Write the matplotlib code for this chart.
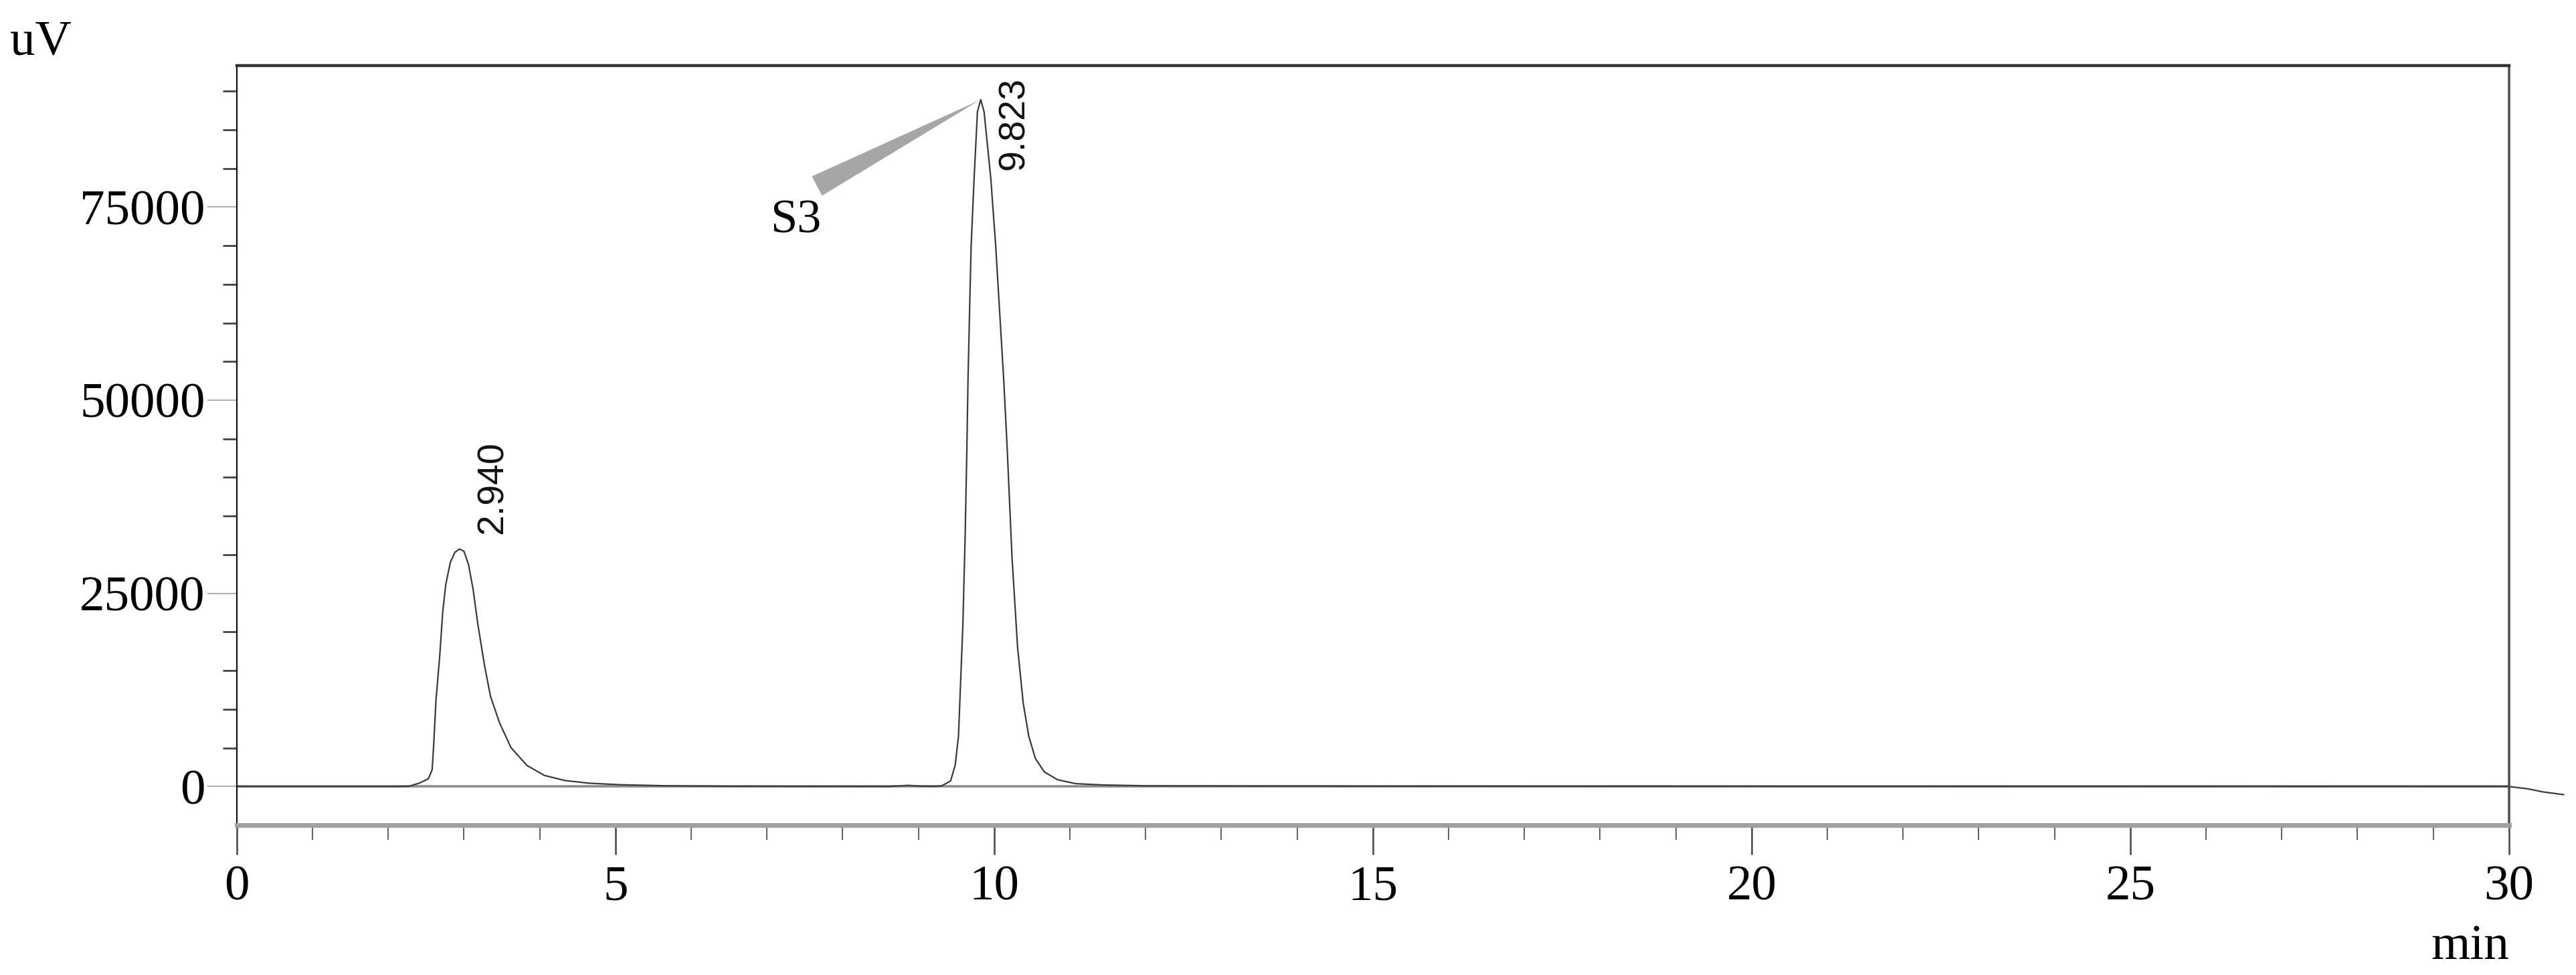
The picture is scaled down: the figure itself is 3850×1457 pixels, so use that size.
import matplotlib
matplotlib.use("Agg")
import matplotlib.pyplot as plt
from matplotlib.ticker import FixedLocator

# retention time (min) and detector signal (uV)
time_min = [0.0, 1.0, 2.09, 2.27, 2.41, 2.53, 2.58, 2.60, 2.63, 2.68, 2.72, 2.76, 2.82,
            2.88, 2.94, 3.00, 3.06, 3.12, 3.18, 3.27, 3.35, 3.47, 3.62, 3.83,
            4.06, 4.33, 4.65, 5.06, 5.65, 6.5, 8.6, 8.75, 8.87, 9.0, 9.2,
            9.308, 9.425, 9.485, 9.529, 9.552, 9.587, 9.617, 9.638, 9.655,
            9.675, 9.696, 9.735, 9.779, 9.823, 9.867, 9.956, 10.020, 10.073,
            10.126, 10.168, 10.236, 10.309, 10.383, 10.457, 10.545, 10.663,
            10.840, 11.076, 11.430, 12.016, 15.0, 20.0, 25.0, 30.0]
signal_uv = [0, 0, 0, 30, 430, 1010, 2170, 5340, 11110, 16890, 22660, 26130, 29010,
             30310, 30740, 30450, 28720, 25550, 21220, 15730, 11690, 8230, 5050, 2740,
             1440, 780, 430, 230, 100, 30, 0, 80, 150, 60, 20,
             90, 720, 2750, 6500, 12300, 20960, 32480, 42870, 52740,
             61340, 70000, 78660, 87320, 88900, 87320, 78660, 70000, 61340,
             52680, 44600, 29590, 18040, 10830, 6500, 3610, 1880,
             870, 370, 200, 90, 40, 20, 10, 0]

# trace continuing past the end of the time axis
tail_time = [30.0, 30.25, 30.45, 30.72]
tail_uv = [0, -300, -700, -1050]

peak_times = [2.940, 9.823]
peak_labels = ["2.940", "9.823"]
peak_label_y = [32650, 91800]
peak_label_va = ["bottom", "top"]

x_ticks = [0, 5, 10, 15, 20, 25, 30]
y_ticks = [0, 25000, 50000, 75000]
y_minor = [5000, 10000, 15000, 20000, 30000, 35000, 40000, 45000,
           55000, 60000, 65000, 70000, 80000, 85000, 90000]

plt.rcParams['font.family'] = ['Liberation Serif', 'DejaVu Serif']

fig = plt.figure(figsize=(38.5, 14.57), dpi=100)
ax = fig.add_axes([0.0919, 0.1537, 0.974 - 0.0919, 0.9327 - 0.1537])

ax.axhline(0, color='#8c8c8c', lw=2.6, zorder=1)
ax.plot(time_min, signal_uv, color='#3a3a3a', lw=1.6, zorder=2)
ax.plot(tail_time, tail_uv, color='#3a3a3a', lw=1.6, clip_on=False)

ax.set_xlim(0, 30)
ax.set_ylim(-5000, 93300)

# retention time labels
for t, lab, ly, va in zip(peak_times, peak_labels, peak_label_y, peak_label_va):
    ax.text(t + 0.44, ly, lab, rotation=90, ha='center', va=va, fontsize=40,
            family=['Liberation Sans', 'DejaVu Sans'], color='#111111')

# S3 pointer
apex_i = signal_uv.index(max(signal_uv))
ax.annotate("S3", xy=(time_min[apex_i], signal_uv[apex_i]), xytext=(7.04, 71700),
            fontsize=52, ha='left', va='baseline',
            arrowprops=dict(arrowstyle='wedge,tail_width=0.45,shrink_factor=0.5',
                            fc='#a6a6a6', ec='#a6a6a6', lw=0,
                            relpos=(0.92, 1.3), shrinkA=0, shrinkB=2))

ax.set_xticks(x_ticks)
ax.xaxis.set_minor_locator(FixedLocator(range(0, 31)))
ax.set_yticks(y_ticks)
ax.yaxis.set_minor_locator(FixedLocator(y_minor))

ax.tick_params(axis='x', which='major', length=32, width=2, color='#555555',
               pad=11, labelsize=54)
ax.tick_params(axis='x', which='minor', length=16, width=1.5, color='#666666')
ax.tick_params(axis='y', which='major', length=32, width=1.5, color='#b0b0b0',
               pad=2, labelsize=54)
ax.tick_params(axis='y', which='minor', length=15, width=2, color='#444444')

ax.spines['top'].set_color('#333333')
ax.spines['top'].set_linewidth(3.2)
ax.spines['left'].set_color('#111111')
ax.spines['left'].set_linewidth(1.6)
ax.spines['right'].set_color('#505050')
ax.spines['right'].set_linewidth(2.6)
ax.spines['bottom'].set_color('#a0a0a0')
ax.spines['bottom'].set_linewidth(5)

fig.text(0.0039, 1 - 81 / 1457, "uV", fontsize=54, ha='left', va='baseline')
fig.text(0.974, 1 - 1433 / 1457, "min", fontsize=54, ha='right', va='baseline')

fig.savefig("out.png", dpi=100)
